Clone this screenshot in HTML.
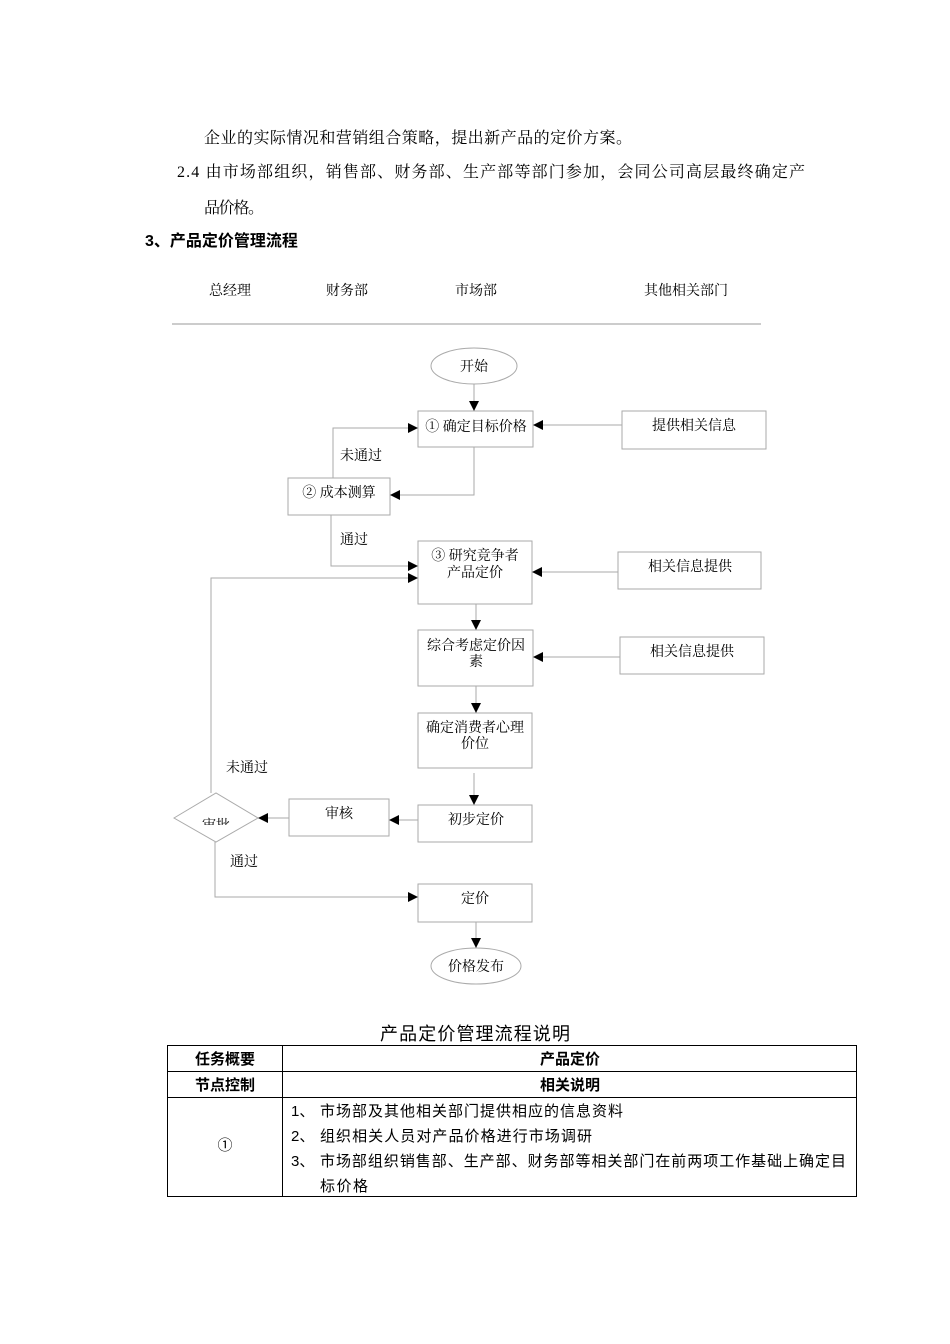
<!DOCTYPE html>
<html><head><meta charset="utf-8"><style>
html,body{margin:0;padding:0;background:#fff;}
body{width:950px;height:1344px;position:relative;overflow:hidden;}
svg{position:absolute;left:0;top:0;}
.s{font-family:"Liberation Serif","Noto Serif CJK SC",serif;}
.a{font-family:"Liberation Sans","Noto Sans CJK SC",sans-serif;}
</style></head><body>
<svg width="950" height="1344" viewBox="0 0 950 1344">
<defs><marker id="ar" markerWidth="10" markerHeight="10" refX="9" refY="5" orient="auto" markerUnits="userSpaceOnUse"><path d="M0,0 L10,5 L0,10z" fill="#000"/></marker>
<clipPath id="cp"><rect x="170" y="790" width="100" height="35"/></clipPath></defs>
<g class="s" font-size="16" fill="#000">
<text x="204" y="143" textLength="428" lengthAdjust="spacing">企业的实际情况和营销组合策略，提出新产品的定价方案。</text>
<text x="177" y="177" textLength="628" lengthAdjust="spacing">2.4 由市场部组织，销售部、财务部、生产部等部门参加，会同公司高层最终确定产</text>
<text x="204" y="213" textLength="60" lengthAdjust="spacing">品价格。</text>
</g>
<text class="a" x="145" y="246" font-size="16" font-weight="bold">3、产品定价管理流程</text>
<g class="s" font-size="14">
<text x="209" y="295">总经理</text><text x="326" y="295">财务部</text><text x="455" y="295">市场部</text><text x="644" y="295">其他相关部门</text>
</g>
<line x1="172" y1="324" x2="761" y2="324" stroke="#999"/>
<g fill="none" stroke="#aaa" stroke-width="1">
<ellipse cx="474" cy="366" rx="43" ry="18"/>
<rect x="418" y="411" width="115" height="36"/>
<rect x="622" y="411" width="144" height="38"/>
<rect x="288" y="478" width="102" height="37"/>
<rect x="418" y="541" width="114" height="63"/>
<rect x="618" y="552" width="143" height="37"/>
<rect x="418" y="630" width="115" height="56"/>
<rect x="620" y="637" width="144" height="37"/>
<rect x="418" y="713" width="114" height="55"/>
<rect x="418" y="805" width="114" height="37"/>
<rect x="289" y="799" width="100" height="37"/>
<path d="M174,818 L216,793 L258,818 L216,842z"/>
<rect x="418" y="884" width="114" height="38"/>
<ellipse cx="476" cy="966" rx="45" ry="18"/>
</g>
<g fill="none" stroke="#aaa" stroke-width="1" marker-end="url(#ar)">
<path d="M474,384 L474,410"/>
<path d="M622,425 L534,425"/>
<path d="M333,478 L333,428 L417,428"/>
<path d="M474,447 L474,495 L391,495"/>
<path d="M331,515 L331,566 L417,566"/>
<path d="M618,572 L533,572"/>
<path d="M211,793 L211,578 L417,578"/>
<path d="M476,604 L476,629"/>
<path d="M620,657 L534,657"/>
<path d="M476,686 L476,712"/>
<path d="M474,773 L474,804"/>
<path d="M418,820 L390,820"/>
<path d="M289,818 L259,818"/>
<path d="M215,842 L215,897 L417,897"/>
<path d="M476,922 L476,947"/>
</g>
<g class="s" font-size="14" fill="#000" text-anchor="middle">
<text x="474" y="371">开始</text>
<text x="476" y="431">① 确定目标价格</text>
<text x="694" y="430">提供相关信息</text>
<text x="361" y="460">未通过</text>
<text x="339" y="497">② 成本测算</text>
<text x="354" y="544">通过</text>
<text x="475" y="560">③ 研究竞争者</text>
<text x="475" y="577">产品定价</text>
<text x="690" y="571">相关信息提供</text>
<text x="476" y="650">综合考虑定价因</text>
<text x="476" y="666">素</text>
<text x="692" y="656">相关信息提供</text>
<text x="475" y="732">确定消费者心理</text>
<text x="475" y="748">价位</text>
<text x="247" y="772">未通过</text>
<text x="339" y="818">审核</text>
<text x="476" y="824">初步定价</text>
<text x="216" y="830" clip-path="url(#cp)">审批</text>
<text x="244" y="866">通过</text>
<text x="475" y="903">定价</text>
<text x="476" y="971">价格发布</text>
</g>
<text class="a" x="380" y="1040" font-size="18" textLength="190" lengthAdjust="spacing">产品定价管理流程说明</text>
<g stroke="#000" stroke-width="1" fill="none">
<rect x="167.5" y="1045.5" width="689" height="151"/>
<line x1="167" y1="1071.5" x2="857" y2="1071.5"/>
<line x1="167" y1="1097.5" x2="857" y2="1097.5"/>
<line x1="282.5" y1="1045" x2="282.5" y2="1197"/>
</g>
<g class="a" font-size="15" fill="#000">
<text x="225" y="1064" text-anchor="middle" font-weight="bold">任务概要</text>
<text x="570" y="1064" text-anchor="middle" font-weight="bold">产品定价</text>
<text x="225" y="1090" text-anchor="middle" font-weight="bold">节点控制</text>
<text x="570" y="1090" text-anchor="middle" font-weight="bold">相关说明</text>
<text x="225" y="1150" text-anchor="middle">①</text>
<text x="291" y="1116">1、</text><text x="320" y="1116" textLength="303" lengthAdjust="spacing">市场部及其他相关部门提供相应的信息资料</text>
<text x="291" y="1141">2、</text><text x="320" y="1141" textLength="272" lengthAdjust="spacing">组织相关人员对产品价格进行市场调研</text>
<text x="291" y="1166">3、</text><text x="320" y="1166" textLength="526" lengthAdjust="spacing">市场部组织销售部、生产部、财务部等相关部门在前两项工作基础上确定目</text>
<text x="320" y="1191" textLength="48" lengthAdjust="spacing">标价格</text>
</g>
</svg>
</body></html>
